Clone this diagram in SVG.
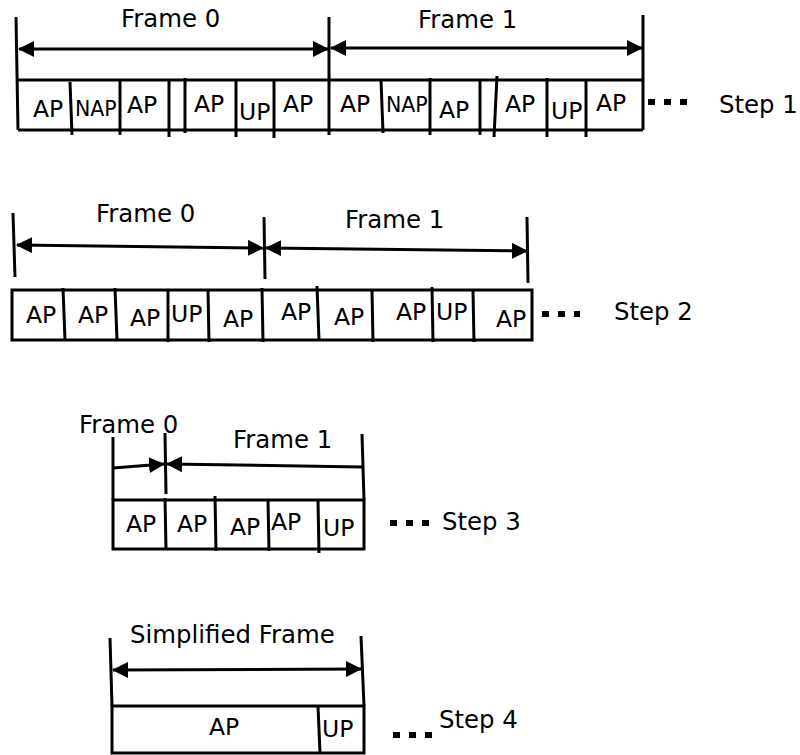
<svg xmlns="http://www.w3.org/2000/svg" width="800" height="755" viewBox="0 0 800 755">
<defs>
<style>
.ln{stroke:#000;stroke-width:3;fill:none}
.ar{stroke:#000;stroke-width:3;fill:none}
.dots{stroke:#000;stroke-width:6;stroke-dasharray:7,9;fill:none}
text{font-family:"DejaVu Sans","Liberation Sans",sans-serif;fill:#000}
.t{font-size:23.5px}
.lb{font-size:24.4px}
.n{font-size:20.5px}
</style>
<marker id="ah" markerUnits="userSpaceOnUse" markerWidth="16" markerHeight="16" refX="15" refY="8" orient="auto-start-reverse">
<path d="M0,0 L16,8 L0,16 z" fill="#000"/>
</marker>
</defs>
<rect width="800" height="755" fill="#fff"/>

<g id="step1">
<line class="ln" x1="18" y1="80" x2="643" y2="80"/>
<line class="ln" x1="18" y1="130" x2="643" y2="130"/>
<line class="ln" x1="16" y1="17" x2="18" y2="130"/>
<line class="ln" x1="329" y1="17" x2="329" y2="135"/>
<line class="ln" x1="643" y1="15" x2="643" y2="130"/>
<line class="ln" x1="70" y1="82" x2="72" y2="135"/>
<line class="ln" x1="120" y1="80" x2="120" y2="135"/>
<line class="ln" x1="169" y1="80" x2="169" y2="137"/>
<line class="ln" x1="185" y1="78" x2="185" y2="133"/>
<line class="ln" x1="236" y1="80" x2="236" y2="137"/>
<line class="ln" x1="274" y1="80" x2="274" y2="138"/>
<line class="ln" x1="381" y1="80" x2="383" y2="133"/>
<line class="ln" x1="430" y1="78" x2="430" y2="135"/>
<line class="ln" x1="480" y1="80" x2="480" y2="135"/>
<line class="ln" x1="497" y1="76" x2="494" y2="137"/>
<line class="ln" x1="547" y1="78" x2="547" y2="137"/>
<line class="ln" x1="586" y1="80" x2="586" y2="137"/>
<text class="lb" x="121" y="27">Frame 0</text>
<text class="lb" x="418" y="28">Frame 1</text>
<text class="t" x="33" y="117">AP</text>
<text class="n" x="75" y="116">NAP</text>
<text class="t" x="127" y="113">AP</text>
<text class="t" x="194" y="112">AP</text>
<text class="t" x="239" y="120">UP</text>
<text class="t" x="283" y="112">AP</text>
<text class="t" x="340" y="112">AP</text>
<text class="n" x="386" y="112">NAP</text>
<text class="t" x="439" y="118">AP</text>
<text class="t" x="505" y="112">AP</text>
<text class="t" x="551" y="119">UP</text>
<text class="t" x="596" y="111">AP</text>
<line class="dots" x1="648" y1="102" x2="688" y2="102"/>
<text class="lb" x="719" y="113">Step 1</text>
</g>

<g id="step2">
<rect class="ln" x="12" y="290" width="520" height="50"/>
<line class="ln" x1="13" y1="213" x2="15" y2="277"/>
<line class="ln" x1="264" y1="217" x2="265" y2="279"/>
<line class="ln" x1="527" y1="217" x2="528" y2="283"/>
<line class="ln" x1="63" y1="288" x2="65" y2="340"/>
<line class="ln" x1="115" y1="288" x2="117" y2="340"/>
<line class="ln" x1="168" y1="290" x2="168" y2="342"/>
<line class="ln" x1="208" y1="290" x2="209" y2="342"/>
<line class="ln" x1="262" y1="288" x2="263" y2="342"/>
<line class="ln" x1="317" y1="286" x2="319" y2="340"/>
<line class="ln" x1="372" y1="290" x2="373" y2="342"/>
<line class="ln" x1="432" y1="287" x2="433" y2="342"/>
<line class="ln" x1="473" y1="290" x2="474" y2="342"/>
<text class="lb" x="96" y="222">Frame 0</text>
<text class="lb" x="345" y="228">Frame 1</text>
<text class="t" x="26" y="323">AP</text>
<text class="t" x="78" y="323">AP</text>
<text class="t" x="130" y="326">AP</text>
<text class="t" x="171" y="322">UP</text>
<text class="t" x="223" y="327">AP</text>
<text class="t" x="281" y="320">AP</text>
<text class="t" x="334" y="325">AP</text>
<text class="t" x="396" y="320">AP</text>
<text class="t" x="436" y="320">UP</text>
<text class="t" x="496" y="327">AP</text>
<line class="dots" x1="542" y1="314" x2="580" y2="314"/>
<text class="lb" x="614" y="320">Step 2</text>
</g>

<g id="step3">
<rect class="ln" x="113" y="500" width="251" height="49"/>
<line class="ln" x1="113" y1="437" x2="113" y2="500"/>
<line class="ln" x1="165" y1="433" x2="166" y2="494"/>
<line class="ln" x1="362" y1="434" x2="364" y2="500"/>
<line class="ln" x1="165" y1="498" x2="166" y2="549"/>
<line class="ln" x1="215" y1="496" x2="216" y2="551"/>
<line class="ln" x1="268" y1="500" x2="269" y2="551"/>
<line class="ln" x1="318" y1="500" x2="319" y2="553"/>
<text class="lb" x="79" y="433">Frame 0</text>
<text class="lb" x="233" y="448">Frame 1</text>
<text class="t" x="126" y="532">AP</text>
<text class="t" x="177" y="532">AP</text>
<text class="t" x="230" y="535">AP</text>
<text class="t" x="271" y="530">AP</text>
<text class="t" x="323" y="536">UP</text>
<line class="dots" x1="390" y1="523" x2="430" y2="523"/>
<text class="lb" x="442" y="530">Step 3</text>
</g>

<g id="step4">
<rect class="ln" x="112" y="706" width="252" height="47"/>
<line class="ln" x1="110" y1="638" x2="112" y2="706"/>
<line class="ln" x1="361" y1="636" x2="364" y2="706"/>
<line class="ln" x1="318" y1="706" x2="320" y2="753"/>
<text class="lb" x="130" y="643">Simplified Frame</text>
<text class="t" x="209" y="735">AP</text>
<text class="t" x="322" y="737">UP</text>
<line class="dots" x1="393" y1="735" x2="433" y2="735"/>
<text class="lb" x="439" y="728">Step 4</text>
</g>

<g id="connectors">
<line class="ar" x1="19" y1="49" x2="328" y2="49" marker-start="url(#ah)" marker-end="url(#ah)"/>
<line class="ar" x1="331" y1="48" x2="642" y2="48" marker-start="url(#ah)" marker-end="url(#ah)"/>
<line class="ar" x1="17" y1="245" x2="263" y2="248" marker-start="url(#ah)" marker-end="url(#ah)"/>
<line class="ar" x1="266" y1="248" x2="527" y2="251" marker-start="url(#ah)" marker-end="url(#ah)"/>
<line class="ar" x1="113" y1="468" x2="164" y2="464" marker-end="url(#ah)"/>
<line class="ar" x1="363" y1="467" x2="167" y2="464" marker-end="url(#ah)"/>
<line class="ar" x1="113" y1="670" x2="361" y2="669" marker-start="url(#ah)" marker-end="url(#ah)"/>
</g>
</svg>
